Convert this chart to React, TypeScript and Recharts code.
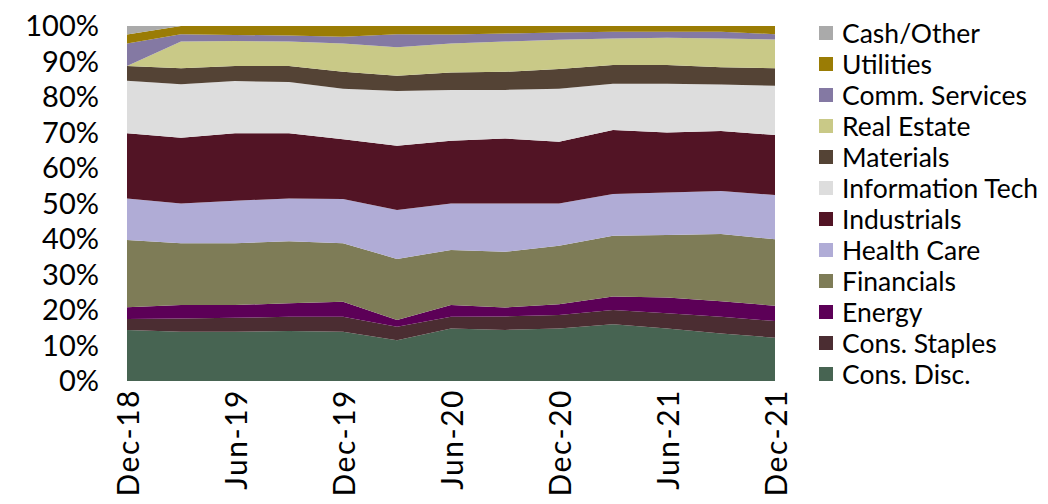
import React from 'react';
import { AreaChart, Area, XAxis, YAxis } from 'recharts';

const quarters = ['Dec-18', 'Mar-19', 'Jun-19', 'Sep-19', 'Dec-19', 'Mar-20', 'Jun-20', 'Sep-20', 'Dec-20', 'Mar-21', 'Jun-21', 'Sep-21', 'Dec-21'];

// sector weights in % (bottom of stack first)
const consDisc = [14.4, 13.9, 13.9, 14.1, 13.9, 11.5, 14.8, 14.4, 14.8, 16.0, 14.8, 13.4, 12.2];
const consStaples = [3.1, 3.7, 3.9, 4.0, 4.2, 3.8, 3.3, 3.8, 3.8, 4.0, 4.3, 4.7, 4.7];
const energy = [3.3, 3.8, 3.6, 3.8, 4.2, 1.9, 3.3, 2.5, 3.0, 3.8, 4.4, 4.4, 4.3];
const financials = [18.9, 17.4, 17.4, 17.5, 16.5, 17.2, 15.5, 15.7, 16.5, 17.1, 17.6, 18.9, 18.7];
const healthCare = [11.7, 11.2, 12.0, 12.0, 12.5, 13.8, 13.1, 13.6, 11.9, 11.8, 12.0, 12.1, 12.5];
const industrials = [18.4, 18.5, 19.0, 18.4, 16.8, 18.1, 17.7, 18.3, 17.4, 18.0, 16.9, 16.9, 16.9];
const infoTech = [14.8, 15.1, 14.7, 14.4, 14.2, 15.4, 14.3, 13.7, 14.9, 13.0, 13.7, 13.1, 13.9];
const materials = [4.1, 4.5, 4.2, 4.5, 4.8, 4.3, 4.9, 5.1, 5.6, 5.3, 5.3, 4.9, 4.9];
const realEstate = [0, 7.5, 7.1, 6.9, 8.0, 8.0, 8.2, 8.5, 8.2, 7.5, 7.7, 8.1, 8.1];
const commServices = [6.4, 2.1, 1.7, 1.7, 1.9, 3.7, 2.5, 2.3, 2.1, 1.9, 1.7, 1.9, 1.5];
const utilities = [2.5, 2.3, 2.5, 2.7, 3.0, 2.3, 2.4, 2.1, 1.8, 1.6, 1.6, 1.6, 2.3];
const cashOther = [2.4, 0, 0, 0, 0, 0, 0, 0, 0, 0, 0, 0, 0];

const yTicks = [0, 10, 20, 30, 40, 50, 60, 70, 80, 90, 100];

const series = [
  { key: 'consDisc', name: 'Cons. Disc.', color: '#476452', values: consDisc },
  { key: 'consStaples', name: 'Cons. Staples', color: '#4b2d32', values: consStaples },
  { key: 'energy', name: 'Energy', color: '#5c0057', values: energy },
  { key: 'financials', name: 'Financials', color: '#7e7c57', values: financials },
  { key: 'healthCare', name: 'Health Care', color: '#b0acd6', values: healthCare },
  { key: 'industrials', name: 'Industrials', color: '#521425', values: industrials },
  { key: 'infoTech', name: 'Information Tech', color: '#dddddd', values: infoTech },
  { key: 'materials', name: 'Materials', color: '#544335', values: materials },
  { key: 'realEstate', name: 'Real Estate', color: '#c9c987', values: realEstate },
  { key: 'commServices', name: 'Comm. Services', color: '#8479a3', values: commServices },
  { key: 'utilities', name: 'Utilities', color: '#9a7c05', values: utilities },
  { key: 'cashOther', name: 'Cash/Other', color: '#aaaaaa', values: cashOther },
];

const data = quarters.map((q, i) => {
  const row: any = { q };
  series.forEach((s) => { row[s.key] = s.values[i]; });
  return row;
});

const FONT = 'Lato, "Noto Sans", sans-serif';

const XTick = ({ x, y, payload }: any) => (
  <text x={x} y={y} transform={`rotate(-90, ${x}, ${y})`} textAnchor="end" dominantBaseline="central"
    fontSize={30} letterSpacing={1.5} fontFamily={FONT} fill="#000">
    {payload.value}
  </text>
);

export default function App() {
  return (
    <div style={{ position: 'absolute', left: 0, top: 0, width: 1048, height: 504, background: '#fff' }}>
      <AreaChart width={1048} height={504} data={data} stackOffset="none"
        margin={{ top: 26, right: 273, left: 0, bottom: 0 }}>
        <XAxis dataKey="q" interval={1} axisLine={false} tickLine={false} tick={<XTick />} height={123} />
        <YAxis domain={[0, 100]} ticks={yTicks} interval={0} axisLine={false} tickLine={false} width={127}
          tickFormatter={(v) => `${v}%`}
          tick={{ fontSize: 29, fontFamily: FONT, fill: '#000', dx: -20 }} />
        {series.map((s) => (
          <Area key={s.key} type="linear" dataKey={s.key} stackId="1" stroke="none" fill={s.color}
            fillOpacity={1} isAnimationActive={false} />
        ))}
      </AreaChart>
      <div style={{ position: 'absolute', left: 819, top: 17, fontFamily: FONT, fontSize: 26.5, color: '#000' }}>
        {series.slice().reverse().map((s) => (
          <div key={s.key} style={{ display: 'flex', alignItems: 'center', height: 31 }}>
            <span style={{ width: 14, height: 14, background: s.color, marginRight: 9, display: 'inline-block', flexShrink: 0 }} />
            <span style={{ whiteSpace: 'nowrap' }}>{s.name}</span>
          </div>
        ))}
      </div>
    </div>
  );
}
